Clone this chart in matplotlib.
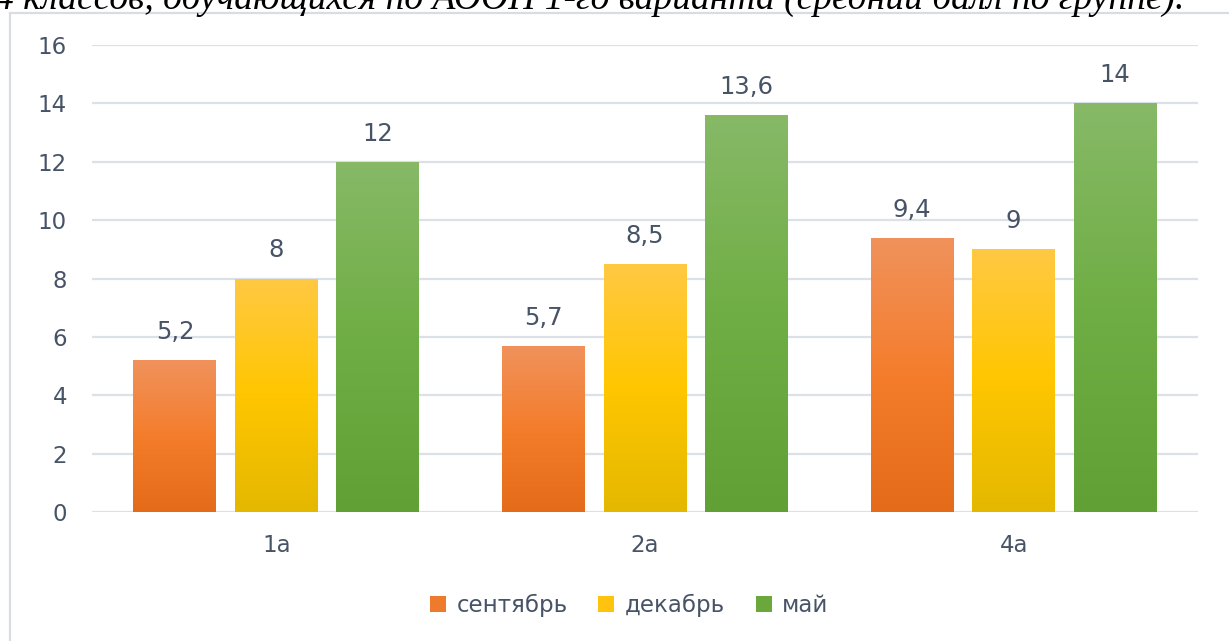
"""
Grouped bar chart: average score per group (сентябрь / декабрь / май).
"""

import matplotlib.pyplot as plt
import numpy as np
from matplotlib.colors import LinearSegmentedColormap
from matplotlib.lines import Line2D
from matplotlib.patches import Patch

plt.rcParams["font.family"] = ["DejaVu Sans"]

groups = ["1а", "2а", "4а"]
months = ["сентябрь", "декабрь", "май"]
september = [5.2, 5.7, 9.4]
december = [8.0, 8.5, 9.0]
may = [12.0, 13.6, 14.0]
y_ticks = [0, 2, 4, 6, 8, 10, 12, 14, 16]

title_text = "4 классов, обучающихся по АООП 1-го варианта (средний балл по группе)."

# gradient stops: bottom, middle, top
gradients = [
    ["#E36B1A", "#F47D2C", "#F0925C"],
    ["#E4B800", "#FFC600", "#FFC943"],
    ["#61A034", "#6FAE44", "#87B967"],
]
legend_colors = ["#EE7A2C", "#FFC20E", "#6AA83D"]

TEXT_COLOR = "#475366"
GRID_COLOR = "#DCE0E7"
FONT_SIZE = 16.5
LABEL_SIZE = 17.5


def fmt(v: float) -> str:
    s = f"{v:g}"
    return s.replace(".", ",")


fig = plt.figure(figsize=(12.29, 6.41), dpi=100)
ax = fig.add_axes([92 / 1229, 1 - 512 / 641, 1106 / 1229, 467 / 641])

x = np.arange(len(groups))
width = 0.225
step = 0.275
series = [september, december, may]

for i, values in enumerate(series):
    cmap = LinearSegmentedColormap.from_list(f"g{i}", gradients[i])
    bars = ax.bar(x + (i - 1) * step, values, width, color="none", edgecolor="none", zorder=2)
    for bar, v in zip(bars, values):
        x0, w, h = bar.get_x(), bar.get_width(), bar.get_height()
        grad = np.linspace(0, 1, 256).reshape(-1, 1)
        img = ax.imshow(
            grad,
            cmap=cmap,
            origin="lower",
            extent=[x0, x0 + w, 0, h],
            aspect="auto",
            zorder=2,
        )
        img.set_clip_path(bar)
        ax.text(
            x0 + w / 2,
            h + 0.55,
            fmt(v),
            ha="center",
            va="bottom",
            fontsize=LABEL_SIZE,
            color=TEXT_COLOR,
        )

ax.set_xlim(-0.5, len(groups) - 0.5)
ax.set_ylim(0, 16)
ax.set_yticks(y_ticks)
ax.set_yticklabels([str(t) for t in y_ticks])
ax.set_xticks(x)
ax.set_xticklabels(groups)
ax.tick_params(axis="both", length=0, labelsize=FONT_SIZE, colors=TEXT_COLOR)
ax.tick_params(axis="y", pad=18)
ax.tick_params(axis="x", pad=16)
ax.yaxis.grid(True, color=GRID_COLOR, linewidth=1.6, zorder=0)
ax.set_axisbelow(True)
for spine in ax.spines.values():
    spine.set_visible(False)

handles = [Patch(facecolor=c, edgecolor="none") for c in legend_colors]
fig.legend(
    handles,
    months,
    loc="center",
    bbox_to_anchor=(0.512, 1 - 605 / 641),
    ncol=3,
    frameon=False,
    fontsize=FONT_SIZE,
    labelcolor=TEXT_COLOR,
    handlelength=0.7,
    handleheight=0.7,
    handletextpad=0.45,
    columnspacing=1.35,
)

# chart frame (only top and left edges are visible in the crop)
fig.add_artist(Line2D([10 / 1229, 1], [1 - 13 / 641] * 2, transform=fig.transFigure,
                      color="#D9DDE3", linewidth=1.6))
fig.add_artist(Line2D([10 / 1229] * 2, [0, 1 - 13 / 641], transform=fig.transFigure,
                      color="#D9DDE3", linewidth=1.6))

# heading text, cut off by the top edge
fig.text(-0.004, 1 - 9 / 641, title_text, ha="left", va="baseline",
         fontsize=27, style="italic", family="Liberation Serif", color="black")

fig.savefig("out.png", dpi=100)
